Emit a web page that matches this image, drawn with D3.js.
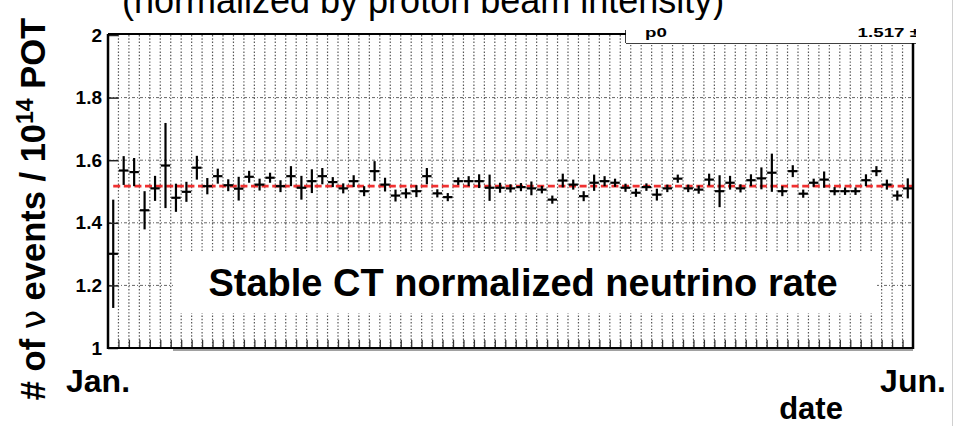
<!DOCTYPE html>
<html>
<head>
<meta charset="utf-8">
<script src="https://cdn.jsdelivr.net/npm/d3@7/dist/d3.min.js"></script>
<style>
  html, body { margin: 0; padding: 0; background: #fff; }
  svg { display: block; font-family: "Liberation Sans", Arial, Helvetica, sans-serif; }
</style>
</head>
<body>
<svg id="chart" width="955" height="426"></svg>
<script>
// Day of year (bin centre, 2-day bins) for each measurement
const days = [1, 3, 5, 7, 9, 11, 13, 15, 17, 19, 21, 23, 25, 27, 29, 31, 33, 35, 37, 39,
  41, 43, 45, 47, 49, 51, 53, 55, 57, 59, 61, 63, 65, 67, 69, 71, 73, 75, 77, 79,
  81, 83, 85, 87, 89, 91, 93, 95, 97, 99, 101, 103, 105, 107, 109, 111, 113, 115, 117, 119,
  121, 123, 125, 127, 129, 131, 133, 135, 137, 139, 141, 143, 145, 147, 149, 151, 153];

// Neutrino events per 1e14 protons on target
const rates = [1.301, 1.567, 1.562, 1.440, 1.510, 1.583, 1.480, 1.499, 1.576, 1.517,
  1.549, 1.520, 1.509, 1.547, 1.522, 1.544, 1.517, 1.549, 1.512, 1.533,
  1.549, 1.530, 1.510, 1.533, 1.501, 1.565, 1.522, 1.487, 1.494, 1.501,
  1.549, 1.494, 1.482, 1.533, 1.533, 1.533, 1.512, 1.512, 1.510, 1.514,
  1.510, 1.506, 1.474, 1.535, 1.522, 1.485, 1.528, 1.533, 1.528, 1.512,
  1.496, 1.514, 1.490, 1.510, 1.541, 1.510, 1.506, 1.538, 1.501, 1.528,
  1.510, 1.536, 1.542, 1.560, 1.501, 1.565, 1.493, 1.528, 1.538, 1.501,
  1.501, 1.501, 1.536, 1.565, 1.522, 1.487, 1.510];

// Statistical error on each rate
const errors = [0.173, 0.046, 0.045, 0.061, 0.040, 0.136, 0.045, 0.032, 0.038, 0.026,
  0.024, 0.019, 0.038, 0.019, 0.019, 0.016, 0.019, 0.032, 0.038, 0.038,
  0.026, 0.016, 0.016, 0.019, 0.016, 0.032, 0.022, 0.019, 0.016, 0.019,
  0.026, 0.013, 0.013, 0.012, 0.016, 0.022, 0.042, 0.016, 0.013, 0.013,
  0.022, 0.012, 0.013, 0.022, 0.016, 0.016, 0.026, 0.016, 0.013, 0.013,
  0.013, 0.012, 0.019, 0.012, 0.013, 0.012, 0.013, 0.019, 0.051, 0.022,
  0.013, 0.019, 0.035, 0.061, 0.016, 0.019, 0.013, 0.013, 0.026, 0.013,
  0.012, 0.012, 0.019, 0.016, 0.016, 0.016, 0.032];

const halfBin = 0.9;          // half width of the horizontal bar, in days
const fitValue = 1.517;       // constant fit p0
const fitStart = 1;           // fit drawn from the first bin

const dayDomain = [0, 154];
const rateDomain = [1, 2];
const yTicks = [1, 1.2, 1.4, 1.6, 1.8, 2];
const yTickLabels = ["1", "1.2", "1.4", "1.6", "1.8", "2"];
const yGridValues = [1.2, 1.4, 1.6, 1.8];
const monthDays = [0, 154];
const monthLabels = ["Jan.", "Jun."];

const titleText = "(normalized by proton beam intensity)";
const boxText = "Stable CT normalized neutrino rate";
const statName = "p0";
const statValue = "1.517 \u00b1";

const W = 955, H = 426;
const plot = { left: 108, right: 913, top: 35, bottom: 348 };

const svg = d3.select("#chart");

const x = d3.scaleLinear().domain(dayDomain).range([plot.left, plot.right]);
const y = d3.scaleLinear().domain(rateDomain).range([plot.bottom, plot.top]);

// ---- title (runs off the top edge) ----
svg.append("text")
  .attr("x", 122).attr("y", 13)
  .attr("font-size", 36)
  .attr("fill", "#000")
  .text(titleText);

// ---- grid ----
const gridDays = d3.range(2, dayDomain[1], 2);
const grid = svg.append("g");
grid.selectAll("line.vg").data(gridDays).join("line")
  .attr("class", "vg")
  .attr("x1", d => x(d)).attr("x2", d => x(d))
  .attr("y1", plot.top).attr("y2", plot.bottom)
  .attr("stroke", "#555").attr("stroke-width", 1.2)
  .attr("stroke-dasharray", "1.4,1.9");
grid.selectAll("line.hg").data(yGridValues).join("line")
  .attr("class", "hg")
  .attr("x1", plot.left).attr("x2", plot.right)
  .attr("y1", d => y(d)).attr("y2", d => y(d))
  .attr("stroke", "#666").attr("stroke-width", 1)
  .attr("stroke-dasharray", "3,2,1,2");

// ---- tick marks on bottom axis ----
svg.append("g")
  .attr("transform", `translate(0,${plot.bottom})`)
  .call(d3.axisBottom(x).tickValues(gridDays).tickSize(-8).tickFormat(""))
  .call(g => g.select(".domain").remove())
  .call(g => g.selectAll(".tick line").attr("stroke", "#333").attr("stroke-width", 1.3));

// ---- constant fit line ----
svg.append("line")
  .attr("x1", x(fitStart)).attr("x2", plot.right)
  .attr("y1", y(fitValue)).attr("y2", y(fitValue))
  .attr("stroke", "#f03030").attr("stroke-width", 2.8)
  .attr("stroke-dasharray", "7,3.6");

// ---- data points with error bars ----
const pts = days.map((d, i) => ({ d, v: rates[i], e: errors[i] }));
const marks = svg.append("g").attr("stroke", "#000").attr("stroke-width", 2.2);
marks.selectAll("line.ey").data(pts).join("line")
  .attr("class", "ey")
  .attr("x1", p => x(p.d)).attr("x2", p => x(p.d))
  .attr("y1", p => y(p.v - p.e)).attr("y2", p => y(p.v + p.e));
marks.selectAll("line.ex").data(pts).join("line")
  .attr("class", "ex")
  .attr("x1", p => x(p.d - halfBin)).attr("x2", p => x(p.d + halfBin))
  .attr("y1", p => y(p.v)).attr("y2", p => y(p.v));

// ---- text box ----
svg.append("rect")
  .attr("x", 173).attr("y", 252).attr("width", 704).attr("height", 61)
  .attr("fill", "#fff");
svg.append("text")
  .attr("x", 523).attr("y", 296)
  .attr("text-anchor", "middle")
  .attr("font-size", 38).attr("font-weight", "bold")
  .text(boxText);

// ---- y axis ----
const yAxis = svg.append("g")
  .attr("transform", `translate(${plot.left},0)`)
  .call(d3.axisLeft(y).tickValues(yTicks).tickSize(-10).tickPadding(6)
    .tickFormat((d, i) => yTickLabels[i]));
yAxis.select(".domain").remove();
yAxis.selectAll(".tick line").attr("stroke", "#222").attr("stroke-width", 1.5);
yAxis.selectAll(".tick text")
  .attr("font-size", 19).attr("font-weight", "bold").attr("fill", "#000")
  .attr("font-family", "Liberation Sans, Arial, sans-serif");

// ---- frame ----
const frame = svg.append("g").attr("stroke", "#000").attr("fill", "none");
frame.append("line").attr("x1", plot.left).attr("x2", plot.left)
  .attr("y1", plot.top - 1).attr("y2", plot.bottom + 1).attr("stroke-width", 2.5);
frame.append("line").attr("x1", plot.left).attr("x2", plot.right + 1)
  .attr("y1", plot.bottom).attr("y2", plot.bottom).attr("stroke-width", 2.2);
frame.append("line").attr("x1", 173).attr("x2", plot.right)
  .attr("y1", plot.bottom + 2).attr("y2", plot.bottom + 2).attr("stroke-width", 1.2).attr("stroke", "#444");
frame.append("line").attr("x1", plot.right).attr("x2", plot.right)
  .attr("y1", 43).attr("y2", plot.bottom + 1).attr("stroke-width", 2.5);
frame.append("line").attr("x1", plot.left).attr("x2", 626)
  .attr("y1", plot.top - 1).attr("y2", plot.top - 1).attr("stroke-width", 2);

// ---- fit statistics box (stretched text, as in the stat pave) ----
svg.append("rect").attr("x", 626).attr("y", 20).attr("width", 292).attr("height", 23).attr("fill", "#fff");
frame.append("line").attr("x1", 626).attr("x2", 626).attr("y1", 30).attr("y2", 43).attr("stroke-width", 1.5);
frame.append("line").attr("x1", 626).attr("x2", 916).attr("y1", 43).attr("y2", 43).attr("stroke-width", 1.5);
svg.append("defs").append("clipPath").attr("id", "statClip")
  .append("rect").attr("x", 626).attr("y", 27.5).attr("width", 290).attr("height", 15);
const stat = svg.append("g").attr("clip-path", "url(#statClip)");
stat.append("g").attr("transform", "translate(645,37) scale(1.5,1)")
  .append("text").attr("font-size", 12.5).attr("font-weight", "bold").text(statName);
stat.append("g").attr("transform", "translate(920,37) scale(1.5,1)")
  .append("text").attr("font-size", 12.5).attr("font-weight", "bold")
  .attr("text-anchor", "end").text(statValue);

// ---- x axis labels ----
svg.selectAll("text.month").data(monthDays).join("text")
  .attr("class", "month")
  .attr("x", (d, i) => x(d) + (i === 0 ? -10 : 0))
  .attr("y", 392)
  .attr("text-anchor", "middle")
  .attr("font-size", 32).attr("font-weight", "bold")
  .text((d, i) => monthLabels[i]);

svg.append("text")
  .attr("x", 811).attr("y", 419)
  .attr("text-anchor", "middle")
  .attr("font-size", 31).attr("font-weight", "bold")
  .text("date");

// ---- y axis title ----
const yTitle = svg.append("text")
  .attr("transform", "translate(45,209) rotate(-90)")
  .attr("text-anchor", "middle")
  .attr("font-size", 34.5).attr("font-weight", "bold");
yTitle.append("tspan").text("# of ");
yTitle.append("tspan").attr("font-family", "DejaVu Sans, sans-serif").attr("font-weight", "normal").text("\u03bd");
yTitle.append("tspan").text(" events / 10");
yTitle.append("tspan").attr("font-size", 23).attr("dy", -12).text("14");
yTitle.append("tspan").attr("dy", 12).text(" POT");

// ---- right border ----
svg.append("line").attr("x1", 952.5).attr("x2", 952.5).attr("y1", 0).attr("y2", H)
  .attr("stroke", "#d0d0d0").attr("stroke-width", 1);
</script>
</body>
</html>
